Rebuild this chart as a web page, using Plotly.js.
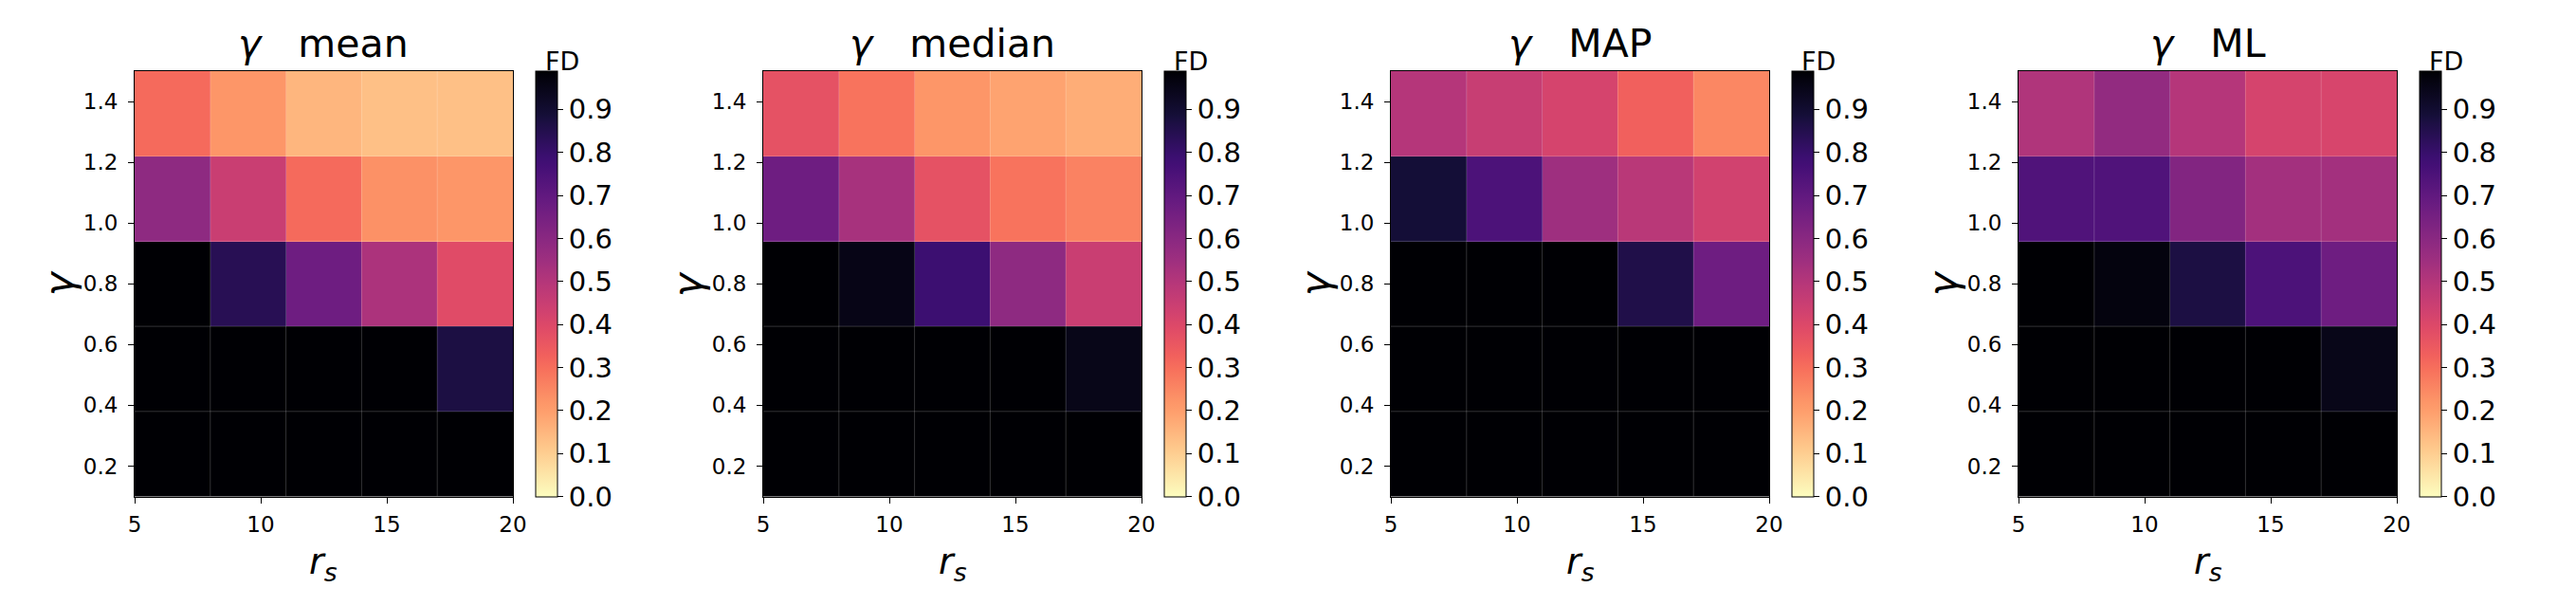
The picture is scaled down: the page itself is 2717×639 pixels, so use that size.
<!DOCTYPE html>
<html>
<head>
<meta charset="utf-8">
<script src="https://cdn.plot.ly/plotly-3.0.1.min.js"></script>
<style>
  html, body { margin: 0; padding: 0; background: #ffffff; }
  #chart { width: 2717px; height: 639px; }
</style>
</head>
<body>
<div id="chart"></div>
<script>
// Grid of cell centres (r_s along x, gamma along y)
const rsCenters = [6.5, 9.5, 12.5, 15.5, 18.5];
const gammaCenters = [0.24, 0.52, 0.80, 1.08, 1.36];

// FD values, one row per gamma (bottom row first), one column per r_s
const fdMean = [
  [0.99, 0.99, 0.99, 0.99, 0.99],
  [0.99, 0.99, 0.99, 0.99, 0.87],
  [0.99, 0.84, 0.67, 0.52, 0.39],
  [0.59, 0.45, 0.31, 0.23, 0.22],
  [0.31, 0.22, 0.15, 0.13, 0.13]
];
const fdMedian = [
  [0.99, 0.99, 0.99, 0.99, 0.99],
  [0.99, 0.99, 0.99, 0.99, 0.95],
  [0.99, 0.955, 0.79, 0.59, 0.45],
  [0.67, 0.53, 0.37, 0.29, 0.26],
  [0.37, 0.29, 0.22, 0.19, 0.17]
];
const fdMap = [
  [0.99, 0.99, 0.99, 0.99, 0.99],
  [0.99, 0.99, 0.99, 0.99, 0.99],
  [0.99, 0.99, 0.99, 0.86, 0.67],
  [0.89, 0.75, 0.55, 0.49, 0.43],
  [0.50, 0.455, 0.42, 0.33, 0.25]
];
const fdMl = [
  [0.99, 0.99, 0.99, 0.99, 0.99],
  [0.99, 0.99, 0.99, 0.99, 0.95],
  [0.99, 0.97, 0.87, 0.75, 0.67],
  [0.74, 0.74, 0.62, 0.54, 0.54],
  [0.51, 0.58, 0.50, 0.42, 0.415]
];

const panelNames = ['mean', 'median', 'MAP', 'ML'];
const panelData = [fdMean, fdMedian, fdMap, fdMl];

const xTickVals = [5, 10, 15, 20];
const yTickVals = [0.2, 0.4, 0.6, 0.8, 1.0, 1.2, 1.4];
const cbTickVals = [0, 0.1, 0.2, 0.3, 0.4, 0.5, 0.6, 0.7, 0.8, 0.9];
const fdMin = 0;
const fdMax = 0.99;

// magma samples, reversed so that low FD is pale and high FD is black
const magmaStops = [
  [0.0, '#000004'], [0.1, '#140e36'], [0.1111, '#180f3d'], [0.2, '#3b0f70'],
  [0.2222, '#440f76'], [0.3, '#641a80'], [0.3333, '#721f81'], [0.4, '#8c2981'],
  [0.4444, '#9e2f7f'], [0.5, '#b73779'], [0.5556, '#cd4071'], [0.6, '#de4968'],
  [0.6667, '#f1605d'], [0.7, '#f7705c'], [0.7778, '#fd9668'], [0.8, '#fe9f6d'],
  [0.8889, '#feca8d'], [0.9, '#fecf92'], [1.0, '#fcfdbf']
];
const magmaR = magmaStops.map(([p, c]) => [+(1 - p).toFixed(4), c]).reverse();

// Page geometry (px)
const W = 2717, H = 639;
const plotLefts = [142, 805, 1467, 2129];
const plotWidth = 399;
const plotTop = 75, plotBottom = 523.5;
const cbOffset = 423, cbThick = 23;

const FONT = 'DejaVu Sans, sans-serif';
const NB = '\u00a0';
const px = v => v / W;
const py = v => (H - v) / H;

// Cell boundaries between neighbouring centres
const mids = a => a.slice(1).map((v, i) => (v + a[i]) / 2);
const xEdges = mids(rsCenters);
const yEdges = mids(gammaCenters);
const xLo = 1.5 * rsCenters[0] - 0.5 * rsCenters[1];
const xHi = 1.5 * rsCenters[4] - 0.5 * rsCenters[3];
const yLo = 1.5 * gammaCenters[0] - 0.5 * gammaCenters[1];
const yHi = 1.5 * gammaCenters[4] - 0.5 * gammaCenters[3];

const traces = [];
const layout = {
  width: W, height: H,
  margin: { l: 0, r: 0, t: 0, b: 0 },
  paper_bgcolor: '#ffffff',
  plot_bgcolor: '#ffffff',
  font: { family: FONT, size: 29, color: '#000000' },
  showlegend: false,
  annotations: [],
  shapes: []
};

panelData.forEach((z, i) => {
  const k = i === 0 ? '' : String(i + 1);
  const left = plotLefts[i];
  const right = left + plotWidth;
  const cbLeft = left + cbOffset;

  traces.push({
    type: 'heatmap',
    x: rsCenters,
    y: gammaCenters,
    z: z,
    zmin: fdMin,
    zmax: fdMax,
    colorscale: magmaR,
    xaxis: 'x' + k,
    yaxis: 'y' + k,
    hoverinfo: 'x+y+z',
    colorbar: {
      x: px(cbLeft), xanchor: 'left', xref: 'paper', xpad: 0,
      y: py(plotBottom), yanchor: 'bottom', yref: 'paper', ypad: 0,
      len: (plotBottom - plotTop) / H, lenmode: 'fraction',
      thickness: cbThick, thicknessmode: 'pixels',
      outlinewidth: 1, outlinecolor: '#000000',
      tickmode: 'array', tickvals: cbTickVals,
      ticktext: cbTickVals.map(v => v.toFixed(1)),
      ticks: 'outside', ticklen: 6, tickwidth: 1, tickcolor: '#000000',
      ticklabelstandoff: 3,
      tickfont: { family: FONT, size: 29, color: '#000000' }
    }
  });

  const axCommon = {
    showgrid: false, zeroline: false,
    showline: true, mirror: true, linecolor: '#000000', linewidth: 1,
    ticks: 'outside', ticklen: 6, tickwidth: 1, tickcolor: '#000000',
    tickfont: { family: FONT, size: 23, color: '#000000' },
    tickmode: 'array'
  };
  layout['xaxis' + k] = Object.assign({}, axCommon, {
    domain: [px(left), px(right)],
    range: [xLo, xHi],
    tickvals: xTickVals,
    ticktext: xTickVals.map(String),
    ticklabelstandoff: 3,
    anchor: 'y' + k
  });
  layout['yaxis' + k] = Object.assign({}, axCommon, {
    domain: [py(plotBottom), py(plotTop)],
    range: [yLo, yHi],
    tickvals: yTickVals,
    ticktext: yTickVals.map(v => v.toFixed(1)),
    ticklabelstandoff: 6,
    anchor: 'x' + k
  });

  // faint seams between cells
  const seam = { color: 'rgba(255,255,255,0.2)', width: 1 };
  xEdges.forEach(xe => layout.shapes.push({
    type: 'line', xref: 'x' + k, yref: 'y' + k,
    x0: xe, x1: xe, y0: yLo, y1: yHi, line: seam, layer: 'above'
  }));
  yEdges.forEach(ye => layout.shapes.push({
    type: 'line', xref: 'x' + k, yref: 'y' + k,
    x0: xLo, x1: xHi, y0: ye, y1: ye, line: seam, layer: 'above'
  }));

  const cx = (left + right) / 2;
  // panel title
  layout.annotations.push({
    xref: 'paper', yref: 'paper', x: px(cx), y: py(72),
    xanchor: 'center', yanchor: 'bottom', showarrow: false,
    text: '<i>γ</i>' + NB + NB + NB + panelNames[i],
    font: { family: FONT, size: 41, color: '#000000' }
  });
  // colorbar label
  layout.annotations.push({
    xref: 'paper', yref: 'paper', x: px(cbLeft + 8), y: py(82),
    xanchor: 'left', yanchor: 'bottom', showarrow: false,
    text: 'FD',
    font: { family: FONT, size: 27, color: '#000000' }
  });
  // x axis label
  layout.annotations.push({
    xref: 'paper', yref: 'paper', x: px(cx), y: py(594),
    xanchor: 'center', yanchor: 'middle', showarrow: false,
    text: '<i>r</i><sub><i>s</i></sub>',
    font: { family: FONT, size: 38, color: '#000000' }
  });
  // y axis label
  layout.annotations.push({
    xref: 'paper', yref: 'paper', x: px(left - 80), y: py((plotTop + plotBottom) / 2),
    xanchor: 'center', yanchor: 'middle', showarrow: false, textangle: -90,
    text: '<i>γ</i>',
    font: { family: FONT, size: 42, color: '#000000' }
  });
});

Plotly.newPlot('chart', traces, layout, { staticPlot: true, displayModeBar: false });
</script>
</body>
</html>
